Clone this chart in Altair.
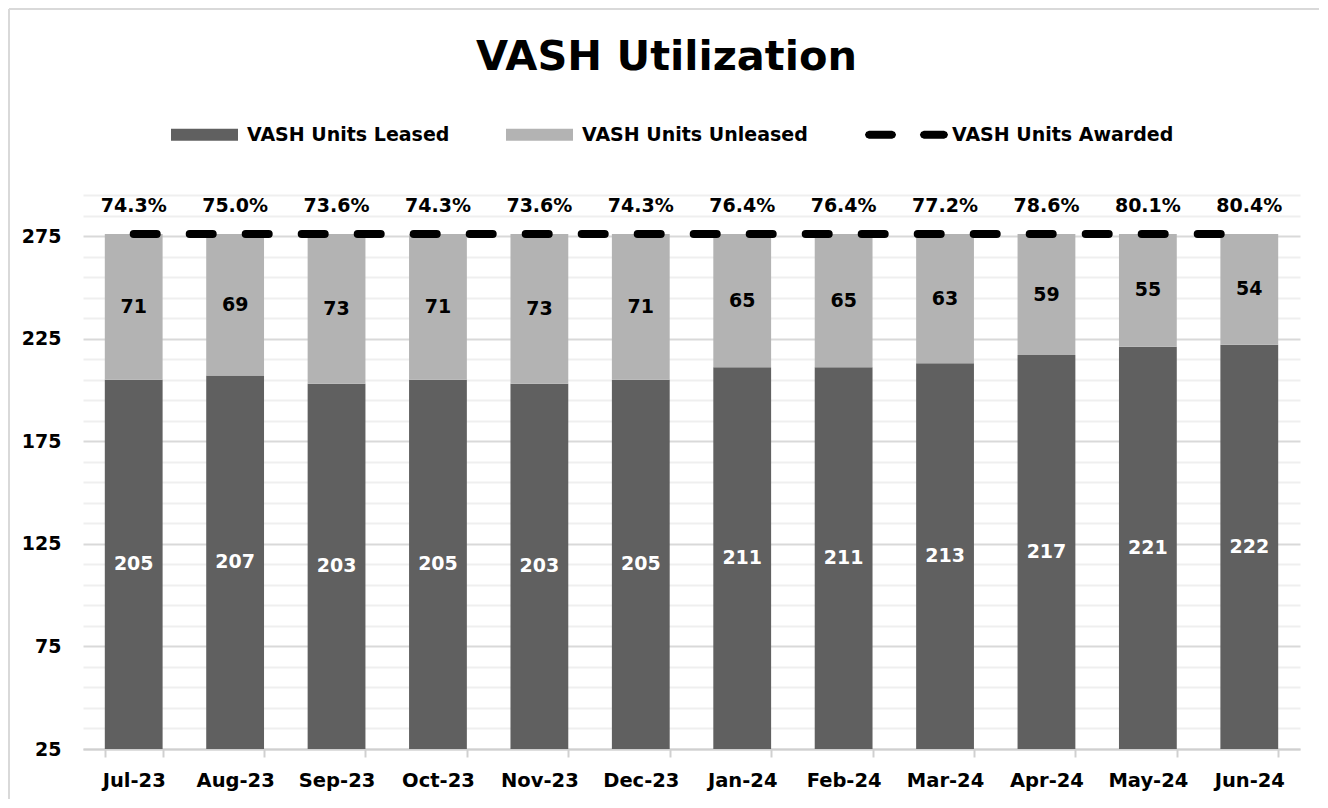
import altair as alt
import pandas as pd

months = ["Jul-23", "Aug-23", "Sep-23", "Oct-23", "Nov-23", "Dec-23",
          "Jan-24", "Feb-24", "Mar-24", "Apr-24", "May-24", "Jun-24"]
leased = [205, 207, 203, 205, 203, 205, 211, 211, 213, 217, 221, 222]
unleased = [71, 69, 73, 71, 73, 71, 65, 65, 63, 59, 55, 54]
awarded = [276] * 12

series_names = ["VASH Units Leased", "VASH Units Unleased", "VASH Units Awarded"]
series_colors = ["#606060", "#b3b3b3", "#000000"]
y_grid_values = list(range(25, 296, 10))

FONT = "DejaVu Sans"

rows = []
for i, m in enumerate(months):
    rows.append({"month": m, "series": series_names[0], "value": leased[i], "order": 0})
    rows.append({"month": m, "series": series_names[1], "value": unleased[i], "order": 1})
bars_df = pd.DataFrame(rows)
line_df = pd.DataFrame({"month": months, "awarded": awarded, "leased": leased})
legend_df = pd.DataFrame({"month": [months[0]] * 3, "series": series_names, "value": [awarded[0]] * 3})

MAJOR = "(datum.value - 25) % 50 == 0"
xscale = alt.Scale(domain=months, paddingInner=0.43, paddingOuter=0.215)
xaxis = alt.Axis(title=None, labelFont=FONT, labelFontSize=19.5, labelFontWeight="bold",
                 labelColor="#000000", labelPadding=14, domainColor="#d0d0d0",
                 domainWidth=2, tickColor="#d0d0d0", tickWidth=2, tickSize=8,
                 tickBand="extent", labelAngle=0, grid=False)
yscale = alt.Scale(domain=[25, 295], nice=False, zero=False)
yaxis = alt.Axis(title=None, values=y_grid_values, labelOverlap=False,
                 labelExpr=f"{MAJOR} ? datum.label : ''",
                 labelFont=FONT, labelFontWeight="bold",
                 labelFontSize={"condition": {"test": MAJOR, "value": 19}, "value": 1},
                 labelColor="#000000", labelPadding=22, domain=False, ticks=False,
                 grid=True, gridWidth=2,
                 gridColor={"condition": {"test": MAJOR, "value": "#d9d9d9"}, "value": "#efefef"})

X = alt.X("month:N", sort=months, scale=xscale, axis=xaxis)


def Y(field):
    return alt.Y(field, scale=yscale, axis=yaxis)


base = alt.Chart(bars_df).transform_stack(
    stack="value", groupby=["month"], as_=["v0", "v1"], sort=[alt.SortField("order")]
).transform_calculate(
    lo="max(datum.v0, 25)", mid="(max(datum.v0, 25) + datum.v1) / 2"
)

bars = base.mark_bar().encode(
    x=X,
    y=Y("lo:Q"),
    y2="v1:Q",
    color=alt.condition(alt.datum.series == series_names[0],
                        alt.value(series_colors[0]), alt.value(series_colors[1])),
)

bar_labels = base.mark_text(font=FONT, fontSize=19, fontWeight="bold", baseline="middle").encode(
    x=X,
    y=Y("mid:Q"),
    text=alt.Text("value:Q"),
    color=alt.condition(alt.datum.series == series_names[0], alt.value("#ffffff"), alt.value("#000000")),
)

line = alt.Chart(line_df).mark_line(color="#000000", strokeWidth=8, strokeCap="round",
                                    strokeDash=[23, 33]).encode(
    x=X, y=Y("awarded:Q")
)

pct = alt.Chart(line_df).transform_calculate(
    pct="datum.leased / datum.awarded"
).mark_text(font=FONT, fontSize=19, fontWeight="bold", dy=-28, baseline="middle",
            color="#000000").encode(
    x=X, y=Y("awarded:Q"), text=alt.Text("pct:Q", format=".1%")
)


def dash_seg(a, b, h=0.12):
    c = h * 0.7
    return (f"M{a},{-h}L{b},{-h}L{b + c},{-c}L{b + h},0L{b + c},{c}L{b},{h}"
            f"L{a},{h}L{a - c},{c}L{a - h},0L{a - c},{-c}Z")


rect_path = "M-1,-0.18L1,-0.18L1,0.18L-1,0.18Z"
dash_path = dash_seg(-1.21, -0.52) + dash_seg(0.43, 1.03)

legend = alt.Legend(orient="top", direction="horizontal", title=None,
                    symbolSize=4489, symbolStrokeWidth=0, symbolOpacity=1,
                    labelFont=FONT, labelFontSize=19, labelFontWeight="bold",
                    labelColor="#000000", labelOffset=9, columnPadding=56,
                    labelLimit=500, padding=88, offset=-38)

legend_layer = alt.Chart(legend_df).mark_point(filled=True, size=4).encode(
    x=X,
    y=Y("value:Q"),
    color=alt.Color("series:N", scale=alt.Scale(domain=series_names, range=series_colors),
                    legend=legend),
    shape=alt.Shape("series:N", scale=alt.Scale(domain=series_names,
                                                range=[rect_path, rect_path, dash_path]),
                    legend=legend),
)

one = pd.DataFrame({"a": [0]})
border_left = alt.Chart(one).mark_rule(color="#d9d9d9", strokeWidth=2).encode(
    x=alt.value(-74), y=alt.value(-186), y2=alt.value(620))
border_top = alt.Chart(one).mark_rule(color="#d9d9d9", strokeWidth=2).encode(
    x=alt.value(-74), x2=alt.value(1236), y=alt.value(-186))

chart = alt.layer(
    bars, bar_labels, legend_layer, line, pct, border_left, border_top
).properties(
    width=1217, height=554,
    title=alt.TitleParams("VASH Utilization", font=FONT, fontSize=41.5, fontWeight="bold",
                          color="#000000", anchor="middle", dx=-25, offset=-103,
                          baseline="alphabetic"),
    autosize=alt.AutoSizeParams(type="none"),
    padding={"left": 75, "top": 187, "right": 20, "bottom": 50},
    background="#ffffff",
).configure_view(stroke=None).configure_axisY(labelOverlap=False)

chart.save("out.html", embed_options={"renderer": "svg", "actions": False})
